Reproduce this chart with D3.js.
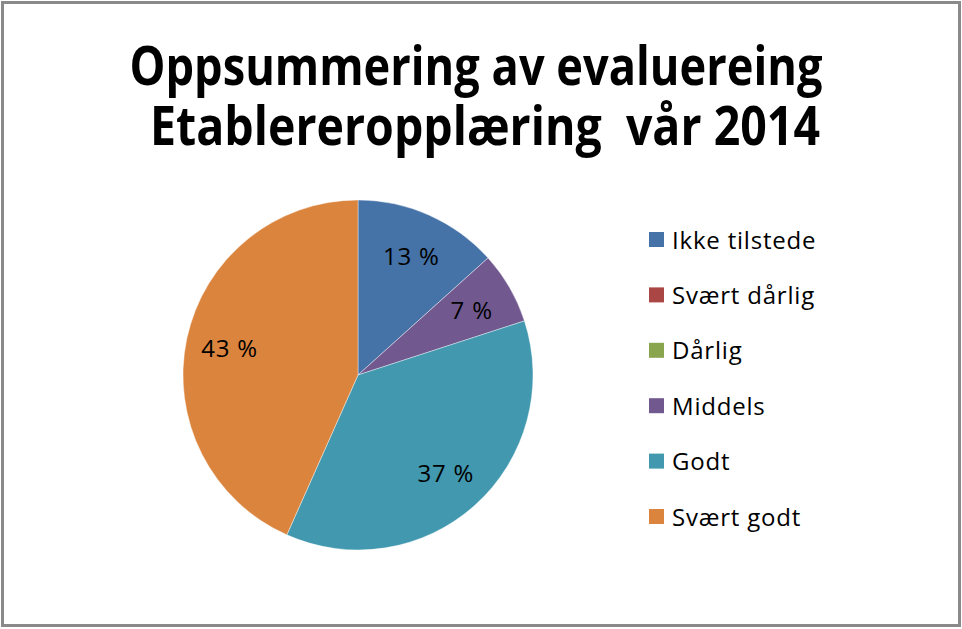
<!DOCTYPE html>
<html>
<head>
<meta charset="utf-8">
<script src="https://cdn.jsdelivr.net/npm/d3@7/dist/d3.min.js"></script>
<style>
  html, body { margin: 0; padding: 0; background: #fff; }
  svg { display: block; }
</style>
</head>
<body>
<script>
const titleLines = ["Oppsummering av evaluereing", "Etablereropplæring  vår 2014"];
const categories = ["Ikke tilstede", "Svært dårlig", "Dårlig", "Middels", "Godt", "Svært godt"];
const counts = [4, 0, 0, 2, 11, 13];
const colors = ["#4572A7", "#AA4643", "#89A54E", "#71588F", "#4198AF", "#DB843D"];

const W = 962, H = 629;
const svg = d3.select("body").append("svg").attr("width", W).attr("height", H);

svg.append("rect").attr("x", 0).attr("y", 0).attr("width", W).attr("height", H).attr("fill", "#fff");
svg.append("rect").attr("x", 2.5).attr("y", 2.5).attr("width", 957).attr("height", 623)
  .attr("fill", "none").attr("stroke", "#8a8a8a").attr("stroke-width", 3);

// Title
const titleFont = "'Open Sans', 'Liberation Sans', Arial, sans-serif";
const titleSpecs = [{ x: 476, y: 85, len: 693 }, { x: 485, y: 145, len: 670 }];
titleLines.forEach((t, i) => {
  svg.append("text")
    .attr("x", titleSpecs[i].x).attr("y", titleSpecs[i].y)
    .attr("text-anchor", "middle")
    .attr("font-family", titleFont)
    .attr("font-weight", "bold")
    .attr("font-size", 53)
    .attr("textLength", titleSpecs[i].len)
    .attr("lengthAdjust", "spacingAndGlyphs")
    .attr("fill", "#000")
    .style("white-space", "pre")
    .text(t);
});

// Pie
const cx = 358, cy = 375, r = 175;
const total = d3.sum(counts);
const data = categories.map((c, i) => ({ cat: c, value: counts[i], color: colors[i] }));
const pie = d3.pie().sort(null).value(d => d.value);
const arcs = pie(data);
const arc = d3.arc().innerRadius(0).outerRadius(r);
const labelArc = d3.arc().innerRadius(r * 0.75).outerRadius(r * 0.75);

const g = svg.append("g").attr("transform", `translate(${cx},${cy})`);
g.selectAll("path.slice").data(arcs.filter(a => a.data.value > 0)).enter()
  .append("path").attr("class", "slice")
  .attr("d", arc)
  .attr("fill", d => d.data.color)
  .attr("stroke", "#ffffff")
  .attr("stroke-opacity", 0.5)
  .attr("stroke-width", 0.8);

const labelFont = "'Open Sans', 'Liberation Sans', Arial, sans-serif";
g.selectAll("text.lbl").data(arcs.filter(a => a.data.value > 0)).enter()
  .append("text").attr("class", "lbl")
  .attr("transform", d => { const p = labelArc.centroid(d); return `translate(${p[0]},${p[1]})`; })
  .attr("text-anchor", "middle")
  .attr("dominant-baseline", "central")
  .attr("font-family", labelFont)
  .attr("font-size", 24)
  .attr("letter-spacing", 0.8)
  .attr("fill", "#000")
  .text(d => Math.round(d.data.value / total * 100) + " %");

// Legend
const legendY = d3.scalePoint().domain(categories).range([239, 516]);
const lg = svg.append("g");
const items = lg.selectAll("g.item").data(data).enter().append("g").attr("class", "item")
  .attr("transform", d => `translate(649,${legendY(d.cat)})`);
items.append("rect").attr("x", 0).attr("y", -7).attr("width", 15).attr("height", 15)
  .attr("fill", d => d.color);
items.append("text").attr("x", 23).attr("y", 0)
  .attr("dominant-baseline", "central")
  .attr("font-family", labelFont)
  .attr("font-size", 24)
  .attr("letter-spacing", 0.8)
  .attr("fill", "#000")
  .text(d => d.cat);
</script>
</body>
</html>
